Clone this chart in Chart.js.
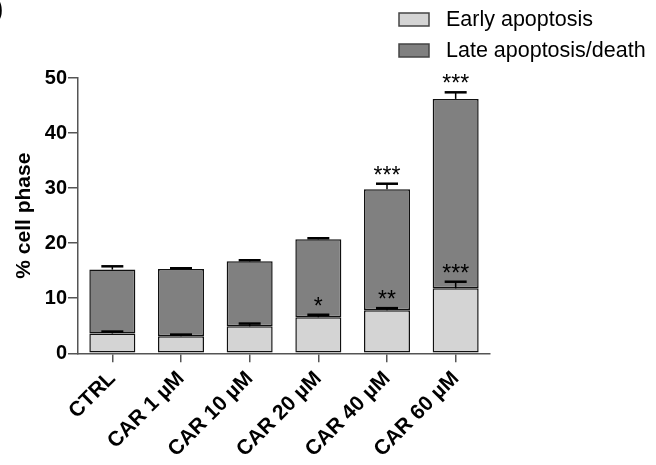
<!DOCTYPE html>
<html>
<head>
<meta charset="utf-8">
<script src="https://cdn.jsdelivr.net/npm/chart.js@4/dist/chart.umd.min.js"></script>
<style>
  html, body { margin: 0; padding: 0; background: #fff; }
</style>
</head>
<body>
<canvas id="chart" width="656" height="465"></canvas>
<script>
const categories = ['CTRL', 'CAR 1 µM', 'CAR 10 µM', 'CAR 20 µM', 'CAR 40 µM', 'CAR 60 µM'];
const seriesNames = ['Early apoptosis', 'Late apoptosis/death'];
const earlyValues = [3.6, 3.1, 4.9, 6.55, 7.8, 11.8];
const lateValues = [11.6, 12.2, 11.8, 14.15, 22.0, 34.4];
const earlyErrors = [0.35, 0.3, 0.5, 0.45, 0.4, 1.2];
const lateErrors = [0.6, 0.15, 0.2, 0.2, 1.0, 1.2];
const earlyStars = ['', '', '', '*', '**', '***'];
const lateStars = ['', '', '', '', '***', '***'];
const yTicks = [0, 10, 20, 30, 40, 50];

const FONT = '"Liberation Sans", Arial, Helvetica, sans-serif';
const EARLY_COLOR = '#d4d4d4';
const LATE_COLOR = '#808080';
const AXIS_COLOR = '#555';

// error bars (upper only) + significance stars
const errorBarPlugin = {
  id: 'errorBars',
  afterDatasetsDraw(chart) {
    const ctx = chart.ctx;
    const y = chart.scales.y;
    const errs = [earlyErrors, lateErrors];
    const stars = [earlyStars, lateStars];
    ctx.save();
    ctx.strokeStyle = '#000';
    ctx.fillStyle = '#000';
    chart.data.datasets.forEach((ds, i) => {
      const meta = chart.getDatasetMeta(i);
      meta.data.forEach((bar, j) => {
        let top = 0;
        for (let k = 0; k <= i; k++) top += chart.data.datasets[k].data[j];
        const capY = y.getPixelForValue(top + errs[i][j]);
        ctx.lineWidth = 1.5;
        ctx.beginPath();
        ctx.moveTo(bar.x, bar.y);
        ctx.lineTo(bar.x, capY);
        ctx.stroke();
        ctx.lineWidth = 2.5;
        ctx.beginPath();
        ctx.moveTo(bar.x - 11, capY);
        ctx.lineTo(bar.x + 11, capY);
        ctx.stroke();
        if (stars[i][j]) {
          ctx.font = '23px ' + FONT;
          ctx.textAlign = 'center';
          ctx.textBaseline = 'alphabetic';
          ctx.fillText(stars[i][j], bar.x, capY - 1);
        }
      });
    });
    ctx.restore();
  }
};

// legend at top right + panel letter remnant
const legendPlugin = {
  id: 'sideLegend',
  afterDraw(chart) {
    const ctx = chart.ctx;
    ctx.save();
    chart.data.datasets.forEach((ds, i) => {
      const by = 13 + i * 31;
      ctx.fillStyle = ds.backgroundColor;
      ctx.fillRect(399, by, 30, 13);
      ctx.strokeStyle = '#444';
      ctx.lineWidth = 1.5;
      ctx.strokeRect(399, by, 30, 13);
      ctx.fillStyle = '#000';
      ctx.font = '21.5px ' + FONT;
      ctx.textAlign = 'left';
      ctx.textBaseline = 'middle';
      ctx.fillText(ds.label, 446, by + 7);
    });
    ctx.font = 'bold 24px ' + FONT;
    ctx.textAlign = 'left';
    ctx.textBaseline = 'top';
    ctx.fillText(')', -5, -2);
    ctx.restore();
  }
};

new Chart(document.getElementById('chart'), {
  type: 'bar',
  data: {
    labels: categories,
    datasets: [
      {
        label: seriesNames[0],
        data: earlyValues,
        backgroundColor: EARLY_COLOR,
        borderColor: '#111',
        borderWidth: 1.5,
        borderSkipped: false
      },
      {
        label: seriesNames[1],
        data: lateValues,
        backgroundColor: LATE_COLOR,
        borderColor: '#111',
        borderWidth: 1.5,
        borderSkipped: false
      }
    ]
  },
  options: {
    responsive: false,
    animation: false,
    devicePixelRatio: 1,
    categoryPercentage: 1,
    barPercentage: 0.67,
    layout: { padding: { left: 12, top: 78, right: 166, bottom: 0 } },
    plugins: {
      legend: { display: false },
      tooltip: { enabled: false }
    },
    scales: {
      x: {
        stacked: true,
        afterFit: (s) => { s.height = 111.7; },
        grid: { offset: false, drawOnChartArea: false, tickLength: 9, color: AXIS_COLOR, lineWidth: 1.5 },
        border: { color: AXIS_COLOR, width: 1.5 },
        ticks: {
          color: '#000',
          font: { family: FONT, size: 21, weight: 'bold' },
          minRotation: 45,
          maxRotation: 45,
          padding: 4
        }
      },
      y: {
        stacked: true,
        min: 0,
        max: 50,
        afterFit: (s) => { s.width = 66; },
        afterBuildTicks: (s) => { s.ticks = yTicks.map(v => ({ value: v })); },
        grid: { drawOnChartArea: false, tickLength: 10, color: AXIS_COLOR, lineWidth: 1.5 },
        border: { color: AXIS_COLOR, width: 1.5 },
        ticks: {
          color: '#000',
          font: { family: FONT, size: 20, weight: 'bold' },
          padding: 1
        },
        title: {
          display: true,
          text: '% cell phase',
          color: '#000',
          font: { family: FONT, size: 21, weight: 'bold' },
          padding: 0
        }
      }
    }
  },
  plugins: [errorBarPlugin, legendPlugin]
});
</script>
</body>
</html>
